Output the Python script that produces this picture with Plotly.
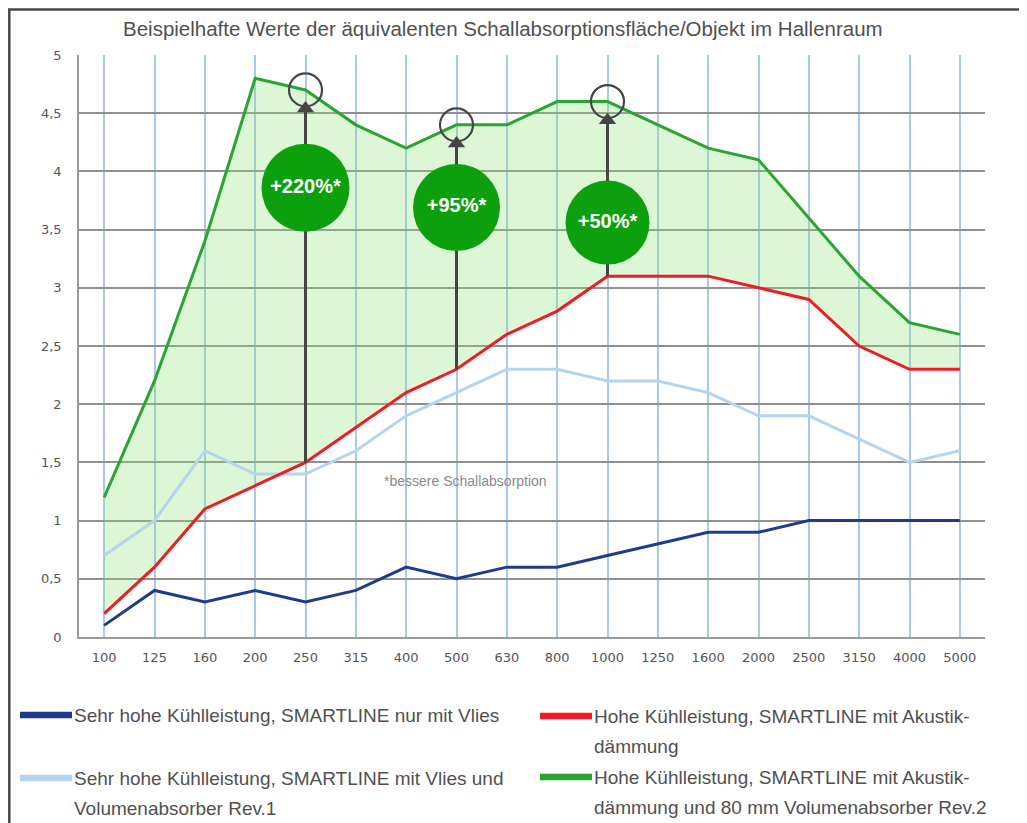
import plotly.graph_objects as go

# ---------------- data ----------------
freqs = ["100", "125", "160", "200", "250", "315", "400", "500", "630", "800",
         "1000", "1250", "1600", "2000", "2500", "3150", "4000", "5000"]

vlies_only = [0.1, 0.4, 0.3, 0.4, 0.3, 0.4, 0.6, 0.5, 0.6, 0.6,
              0.7, 0.8, 0.9, 0.9, 1.0, 1.0, 1.0, 1.0]
vlies_volumen = [0.7, 1.0, 1.6, 1.4, 1.4, 1.6, 1.9, 2.1, 2.3, 2.3,
                 2.2, 2.2, 2.1, 1.9, 1.9, 1.7, 1.5, 1.6]
akustik = [0.2, 0.6, 1.1, 1.3, 1.5, 1.8, 2.1, 2.3, 2.6, 2.8,
           3.1, 3.1, 3.1, 3.0, 2.9, 2.5, 2.3, 2.3]
akustik_volumen = [1.2, 2.2, 3.4, 4.8, 4.7, 4.4, 4.2, 4.4, 4.4, 4.6,
                   4.6, 4.4, 4.2, 4.1, 3.6, 3.1, 2.7, 2.6]

series_names = [
    "Sehr hohe Kühlleistung, SMARTLINE nur mit Vlies",
    "Hohe Kühlleistung, SMARTLINE mit Akustik-|dämmung",
    "Sehr hohe Kühlleistung, SMARTLINE mit Vlies und|Volumenabsorber Rev.1",
    "Hohe Kühlleistung, SMARTLINE mit Akustik-|dämmung und 80 mm Volumenabsorber Rev.2",
]

y_tickvals = [0, 0.5, 1, 1.5, 2, 2.5, 3, 3.5, 4, 4.5, 5]
y_ticktext = ["0", "0,5", "1", "1,5", "2", "2,5", "3", "3,5", "4", "4,5", "5"]

badge_freqs = ["250", "500", "1000"]
badge_labels = ["+220%*", "+95%*", "+50%*"]
badge_y = [3.86, 3.69, 3.56]
badge_sizes = [88, 87, 84]

title_text = "Beispielhafte Werte der äquivalenten Schallabsorptionsfläche/Objekt im Hallenraum"
note_text = "*bessere Schallabsorption"

# ---------------- styles ----------------
C_DARK = "#1f3c8c"
C_LIGHT = "#b5d5ee"
C_RED = "#ee1c23"
C_GREEN = "#2aa531"
C_BADGE = "#0c9f0e"
C_ARROW = "#454545"
TXT = "#505050"

OFF = 8  # page body margin
W, H = 1027 - OFF, 823 - OFF
ML, MT = 79 - OFF, 55 - OFF
MR = W - (985 - OFF)
MB = H - (637 - OFF)


def px(x):
    return (x - OFF - ML) / (W - ML - MR)


def py(y):
    return (H - MB - (y - OFF)) / (H - MT - MB)


fig = go.Figure()

# fill between red and green
fig.add_trace(go.Scatter(x=freqs, y=akustik, mode="lines", line=dict(width=0),
                         hoverinfo="skip", showlegend=False))
fig.add_trace(go.Scatter(x=freqs, y=akustik_volumen, mode="lines", line=dict(width=0),
                         fill="tonexty", fillcolor="rgba(140,225,120,0.3)",
                         hoverinfo="skip", showlegend=False))

# lines
fig.add_trace(go.Scatter(x=freqs, y=vlies_volumen, mode="lines",
                         line=dict(color=C_LIGHT, width=3), showlegend=False))
fig.add_trace(go.Scatter(x=freqs, y=vlies_only, mode="lines",
                         line=dict(color=C_DARK, width=3), showlegend=False))
fig.add_trace(go.Scatter(x=freqs, y=akustik, mode="lines",
                         line=dict(color=C_RED, width=3), showlegend=False))
fig.add_trace(go.Scatter(x=freqs, y=akustik_volumen, mode="lines",
                         line=dict(color=C_GREEN, width=3), showlegend=False))

# arrows from red to green at badge frequencies
ax_x, ax_y, head_x, head_y, ring_y = [], [], [], [], []
for f in badge_freqs:
    i = freqs.index(f)
    tail = akustik[i]
    top = akustik_volumen[i]
    ax_x += [f, f, None]
    ax_y += [tail, top - 0.15, None]
    head_x.append(f)
    head_y.append(top - 0.16)
    ring_y.append(top)

fig.add_trace(go.Scatter(x=ax_x, y=ax_y, mode="lines",
                         line=dict(color=C_ARROW, width=3), hoverinfo="skip",
                         showlegend=False))
fig.add_trace(go.Scatter(x=head_x, y=head_y, mode="markers",
                         marker=dict(symbol="triangle-up", size=15, color=C_ARROW, opacity=1),
                         hoverinfo="skip", showlegend=False))
fig.add_trace(go.Scatter(x=badge_freqs, y=ring_y, mode="markers",
                         marker=dict(symbol="circle-open", size=33, color=C_ARROW, opacity=1,
                                     line=dict(color=C_ARROW, width=2.2)),
                         hoverinfo="skip", showlegend=False))

# green badges
fig.add_trace(go.Scatter(x=badge_freqs, y=badge_y, mode="markers+text",
                         marker=dict(size=badge_sizes, color=C_BADGE, opacity=1,
                                     line=dict(width=0)),
                         text=["<b>" + t + "</b>" for t in badge_labels],
                         textposition="middle center",
                         textfont=dict(color="white", size=20, family="Liberation Sans"),
                         hoverinfo="skip", showlegend=False))

annotations = []
shapes = []

# title
annotations.append(dict(x=px(503), y=py(29), xref="paper", yref="paper",
                        text=title_text, showarrow=False,
                        font=dict(size=20.5, color=TXT, family="Liberation Sans"),
                        xanchor="center", yanchor="middle"))
# footnote
annotations.append(dict(x=px(465), y=py(481), xref="paper", yref="paper",
                        text=note_text, showarrow=False,
                        font=dict(size=14, color="#8a8a8a", family="Liberation Sans"),
                        xanchor="center", yanchor="middle"))

# manual legend
legend_colors = [C_DARK, C_RED, C_LIGHT, C_GREEN]
legend_pos = [(20, 715), (540, 716), (20, 778), (540, 777)]
for name, col, (lx, ly) in zip(series_names, legend_colors, legend_pos):
    shapes.append(dict(type="line", xref="paper", yref="paper",
                       x0=px(lx), x1=px(lx + 52), y0=py(ly), y1=py(ly),
                       line=dict(color=col, width=6.5)))
    for k, part in enumerate(name.split("|")):
        annotations.append(dict(x=px(lx + 52), y=py(ly + k * 30), xref="paper", yref="paper",
                                text=part, showarrow=False,
                                font=dict(size=19, color=TXT, family="Liberation Sans"),
                                xanchor="left", yanchor="middle"))

# outer frame
shapes.append(dict(type="rect", xref="paper", yref="paper",
                   x0=px(9.3), x1=px(1022.3), y0=py(860), y1=py(9.5),
                   line=dict(color="#484848", width=2.5), layer="above"))

fig.update_layout(
    width=W, height=H,
    margin=dict(l=ML, r=MR, t=MT, b=MB),
    paper_bgcolor="white", plot_bgcolor="white",
    showlegend=False,
    annotations=annotations,
    shapes=shapes,
)
fig.update_xaxes(type="category", range=[-0.5, len(freqs) - 0.5],
                 showgrid=True, gridcolor="#a9c8ef", gridwidth=1.5,
                 showline=True, linecolor="#9a9a9a", linewidth=1.5,
                 ticks="", ticklabelstandoff=8,
                 tickfont=dict(size=13, color="#555", family="DejaVu Sans"),
                 zeroline=False, fixedrange=True)
fig.update_yaxes(range=[0, 5], tickvals=y_tickvals, ticktext=y_ticktext,
                 showgrid=True, gridcolor="#909090", gridwidth=1.5,
                 showline=True, linecolor="#9a9a9a", linewidth=1.5,
                 ticks="", ticklabelstandoff=13,
                 tickfont=dict(size=13, color="#555", family="DejaVu Sans"),
                 zeroline=False, fixedrange=True)

fig.write_html("out.html")
